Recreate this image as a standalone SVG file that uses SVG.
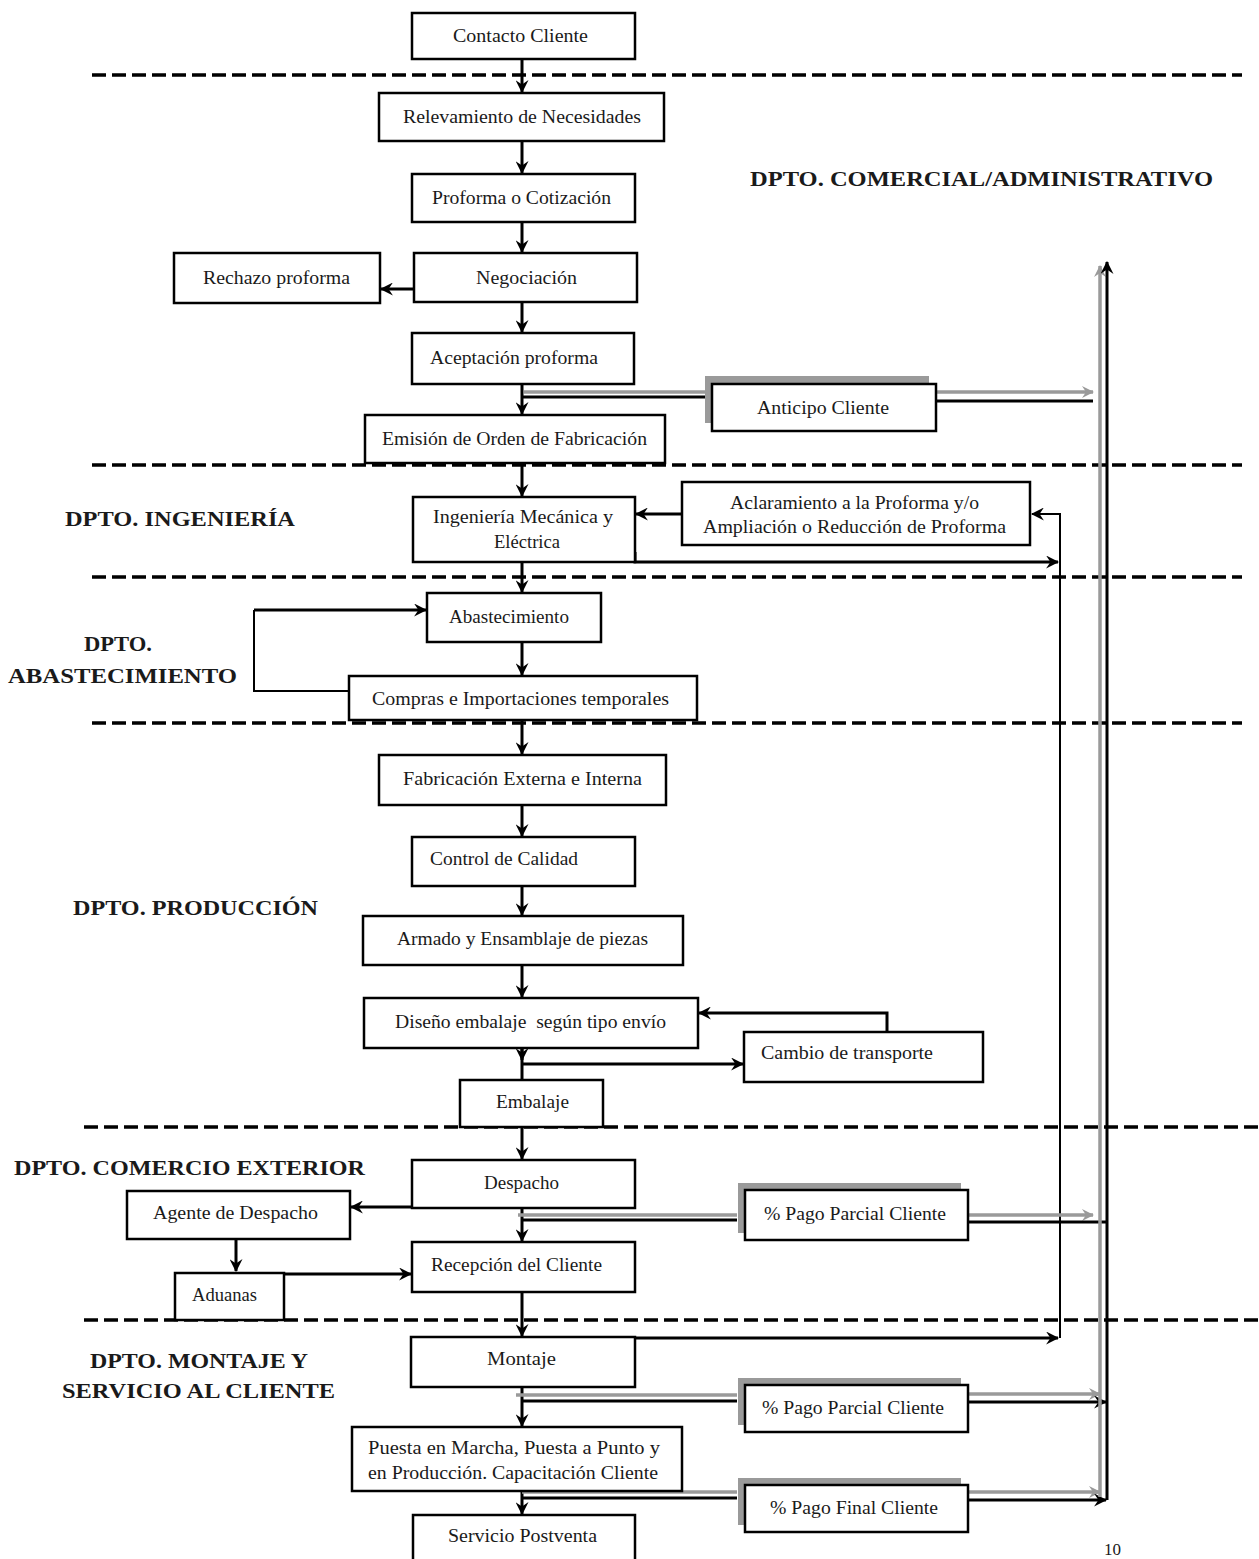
<svg xmlns="http://www.w3.org/2000/svg" width="1259" height="1559" viewBox="0 0 1259 1559">
<defs>
<marker id="ah" viewBox="0 0 12 12" refX="11" refY="6" markerWidth="13" markerHeight="13" markerUnits="userSpaceOnUse" orient="auto">
<path d="M0,0 L12,6 L0,12 L4,6 z" fill="#000"/>
</marker>
<marker id="ahg" viewBox="0 0 12 12" refX="11" refY="6" markerWidth="12" markerHeight="12" markerUnits="userSpaceOnUse" orient="auto">
<path d="M0,0 L12,6 L0,12 L4,6 z" fill="#9a9a9a"/>
</marker>
<style>
.box{fill:#fff;stroke:#000;stroke-width:2.5}
.shadow{fill:#9a9a9a;stroke:none}
.t{font-family:"Liberation Serif","Times New Roman",serif;font-size:18px;fill:#1a1a1a}
.lbl{font-family:"Liberation Serif","Times New Roman",serif;font-size:20px;font-weight:bold;fill:#1a1a1a}
.dash{stroke:#000;stroke-width:3.5;stroke-dasharray:14 6;fill:none}
.c{stroke:#000;stroke-width:3;fill:none}
.cth{stroke:#000;stroke-width:2;fill:none}
.g{stroke:#9a9a9a;stroke-width:3.5;fill:none}
.arr{marker-end:url(#ah)}
.arrg{marker-end:url(#ahg)}
</style>
</defs>
<rect width="1259" height="1559" fill="#fff"/>

<g id="dividers">
<line class="dash" x1="92" y1="75" x2="1242" y2="75"/>
<line class="dash" x1="92" y1="465" x2="1242" y2="465"/>
<line class="dash" x1="92" y1="577" x2="1242" y2="577"/>
<line class="dash" x1="92" y1="723" x2="1242" y2="723"/>
<line class="dash" x1="84" y1="1127" x2="1259" y2="1127"/>
<line class="dash" x1="84" y1="1320" x2="1259" y2="1320"/>
</g>

<g id="labels">
<text class="lbl" x="750" y="186" textLength="463" lengthAdjust="spacingAndGlyphs">DPTO. COMERCIAL/ADMINISTRATIVO</text>
<text class="lbl" x="65" y="526" textLength="230" lengthAdjust="spacingAndGlyphs">DPTO. INGENIERÍA</text>
<text class="lbl" x="84" y="651" textLength="68" lengthAdjust="spacingAndGlyphs">DPTO.</text>
<text class="lbl" x="8" y="683" textLength="229" lengthAdjust="spacingAndGlyphs">ABASTECIMIENTO</text>
<text class="lbl" x="73" y="915" textLength="245" lengthAdjust="spacingAndGlyphs">DPTO. PRODUCCIÓN</text>
<text class="lbl" x="14" y="1175" textLength="351" lengthAdjust="spacingAndGlyphs">DPTO. COMERCIO EXTERIOR</text>
<text class="lbl" x="90" y="1368" textLength="218" lengthAdjust="spacingAndGlyphs">DPTO. MONTAJE Y</text>
<text class="lbl" x="62" y="1398" textLength="273" lengthAdjust="spacingAndGlyphs">SERVICIO AL CLIENTE</text>
<text x="1104" y="1555" style="font-family:'Liberation Serif',serif;font-size:17px;fill:#1a1a1a">10</text>
</g>

<g id="connectors">
<path class="c arr" d="M522,59 V92"/>
<path class="c arr" d="M522,141 V173"/>
<path class="c arr" d="M522,222 V252"/>
<path class="c arr" d="M522,302 V332"/>
<path class="c arr" d="M522,384 V414"/>
<path class="c arr" d="M522,463 V496"/>
<path class="c arr" d="M522,562 V592"/>
<path class="c arr" d="M522,642 V675"/>
<path class="c arr" d="M522,720 V754"/>
<path class="c arr" d="M522,805 V836"/>
<path class="c arr" d="M522,886 V915"/>
<path class="c arr" d="M522,965 V997"/>
<path class="c" d="M522,1048 V1080"/>
<path class="c arr" d="M522,1046 V1060"/>
<path class="c arr" d="M522,1127 V1159"/>
<path class="c arr" d="M522,1208 V1241"/>
<path class="c arr" d="M522,1292 V1336"/>
<path class="c arr" d="M522,1387 V1426"/>
<path class="c arr" d="M522,1491 V1514"/>
<path class="c arr" d="M414,289 H381"/>
<path class="c arr" d="M682,514 H636"/>
<path class="cth arr" d="M1060,1338 V514 H1032"/>
<path class="c arr" d="M635,552 V562 H1058"/>
<path class="c arr" d="M635,1338 H1058"/>
<path class="cth" d="M349,691 H254 V610"/>
<path class="c arr" d="M254,610 H426"/>
<path class="c arr" d="M887,1032 V1013 H699"/>
<path class="c arr" d="M522,1064 H743"/>
<path class="c arr" d="M412,1207 H351"/>
<path class="c arr" d="M236,1239 V1271"/>
<path class="c arr" d="M284,1274 H411"/>
<path class="g" d="M524,392 H706"/>
<path class="c" d="M522,397 H706"/>
<path class="g arrg" d="M936,392 H1093"/>
<path class="c" d="M936,401 H1093"/>
<path class="g" d="M518,1215 H737"/>
<path class="c" d="M522,1220 H737"/>
<path class="g arrg" d="M968,1215 H1093"/>
<path class="c" d="M968,1222 H1107"/>
<path class="g" d="M516,1395 H737"/>
<path class="c" d="M522,1401 H737"/>
<path class="g arrg" d="M968,1394 H1100"/>
<path class="c arr" d="M968,1402 H1106"/>
<path class="g" d="M522,1492 H737"/>
<path class="c" d="M522,1498 H737"/>
<path class="g arrg" d="M968,1492 H1100"/>
<path class="c arr" d="M968,1500 H1106"/>
<path class="g arrg" d="M1100,1497 V266"/>
<path class="c arr" d="M1107,1500 V262"/>
</g>

<g id="n-contacto"><rect class="box" x="412" y="13" width="223" height="46"/><text class="t" x="453" y="42" textLength="135" lengthAdjust="spacingAndGlyphs">Contacto Cliente</text></g>
<g id="n-relevamiento"><rect class="box" x="379" y="93" width="285" height="48"/><text class="t" x="403" y="123" textLength="238" lengthAdjust="spacingAndGlyphs">Relevamiento de Necesidades</text></g>
<g id="n-proforma"><rect class="box" x="412" y="174" width="223" height="48"/><text class="t" x="432" y="204" textLength="179" lengthAdjust="spacingAndGlyphs">Proforma o Cotización</text></g>
<g id="n-negociacion"><rect class="box" x="414" y="253" width="223" height="49"/><text class="t" x="476" y="284" textLength="101" lengthAdjust="spacingAndGlyphs">Negociación</text></g>
<g id="n-rechazo"><rect class="box" x="174" y="253" width="206" height="50"/><text class="t" x="203" y="284" textLength="147" lengthAdjust="spacingAndGlyphs">Rechazo proforma</text></g>
<g id="n-aceptacion"><rect class="box" x="412" y="333" width="222" height="51"/><text class="t" x="430" y="364" textLength="168" lengthAdjust="spacingAndGlyphs">Aceptación proforma</text></g>
<g id="n-anticipo"><rect class="shadow" x="705" y="376" width="224" height="47"/><rect class="box" x="712" y="384" width="224" height="47"/><text class="t" x="757" y="414" textLength="132" lengthAdjust="spacingAndGlyphs">Anticipo Cliente</text></g>
<g id="n-emision"><rect class="box" x="365" y="415" width="300" height="48"/><text class="t" x="382" y="445" textLength="265" lengthAdjust="spacingAndGlyphs">Emisión de Orden de Fabricación</text></g>
<g id="n-ingenieria"><rect class="box" x="413" y="497" width="222" height="65"/><text class="t" x="433" y="523" textLength="180" lengthAdjust="spacingAndGlyphs">Ingeniería Mecánica y</text><text class="t" x="494" y="548" textLength="66" lengthAdjust="spacingAndGlyphs">Eléctrica</text></g>
<g id="n-aclaramiento"><rect class="box" x="682" y="482" width="348" height="63"/><text class="t" x="730" y="509" textLength="249" lengthAdjust="spacingAndGlyphs">Aclaramiento a la Proforma y/o</text><text class="t" x="703" y="533" textLength="303" lengthAdjust="spacingAndGlyphs">Ampliación o Reducción de Proforma</text></g>
<g id="n-abastecimiento"><rect class="box" x="427" y="593" width="174" height="49"/><text class="t" x="449" y="623" textLength="120" lengthAdjust="spacingAndGlyphs">Abastecimiento</text></g>
<g id="n-compras"><rect class="box" x="349" y="676" width="348" height="44"/><text class="t" x="372" y="705" textLength="297" lengthAdjust="spacingAndGlyphs">Compras e Importaciones temporales</text></g>
<g id="n-fabricacion"><rect class="box" x="379" y="755" width="287" height="50"/><text class="t" x="403" y="785" textLength="239" lengthAdjust="spacingAndGlyphs">Fabricación Externa e Interna</text></g>
<g id="n-control"><rect class="box" x="412" y="837" width="223" height="49"/><text class="t" x="430" y="865" textLength="148" lengthAdjust="spacingAndGlyphs">Control de Calidad</text></g>
<g id="n-armado"><rect class="box" x="363" y="916" width="320" height="49"/><text class="t" x="397" y="945" textLength="251" lengthAdjust="spacingAndGlyphs">Armado y Ensamblaje de piezas</text></g>
<g id="n-diseno"><rect class="box" x="364" y="998" width="334" height="50"/><text class="t" x="395" y="1028" textLength="271" lengthAdjust="spacingAndGlyphs" xml:space="preserve">Diseño embalaje  según tipo envío</text></g>
<g id="n-cambio"><rect class="box" x="744" y="1032" width="239" height="50"/><text class="t" x="761" y="1059" textLength="172" lengthAdjust="spacingAndGlyphs">Cambio de transporte</text></g>
<g id="n-embalaje"><rect class="box" x="460" y="1080" width="143" height="47"/><text class="t" x="496" y="1108" textLength="73" lengthAdjust="spacingAndGlyphs">Embalaje</text></g>
<g id="n-despacho"><rect class="box" x="412" y="1160" width="223" height="48"/><text class="t" x="484" y="1189" textLength="75" lengthAdjust="spacingAndGlyphs">Despacho</text></g>
<g id="n-agente"><rect class="box" x="127" y="1191" width="223" height="48"/><text class="t" x="153" y="1219" textLength="165" lengthAdjust="spacingAndGlyphs">Agente de Despacho</text></g>
<g id="n-pago1"><rect class="shadow" x="738" y="1183" width="223" height="50"/><rect class="box" x="745" y="1190" width="223" height="50"/><text class="t" x="764" y="1220" textLength="182" lengthAdjust="spacingAndGlyphs">% Pago Parcial Cliente</text></g>
<g id="n-recepcion"><rect class="box" x="412" y="1242" width="223" height="50"/><text class="t" x="431" y="1271" textLength="171" lengthAdjust="spacingAndGlyphs">Recepción del Cliente</text></g>
<g id="n-aduanas"><rect class="box" x="175" y="1273" width="109" height="47"/><text class="t" x="192" y="1301" textLength="65" lengthAdjust="spacingAndGlyphs">Aduanas</text></g>
<g id="n-montaje"><rect class="box" x="411" y="1337" width="224" height="50"/><text class="t" x="487" y="1365" textLength="69" lengthAdjust="spacingAndGlyphs">Montaje</text></g>
<g id="n-pago2"><rect class="shadow" x="738" y="1378" width="223" height="47"/><rect class="box" x="745" y="1385" width="223" height="47"/><text class="t" x="762" y="1414" textLength="182" lengthAdjust="spacingAndGlyphs">% Pago Parcial Cliente</text></g>
<g id="n-puesta"><rect class="box" x="352" y="1427" width="330" height="64"/><text class="t" x="368" y="1454" textLength="292" lengthAdjust="spacingAndGlyphs">Puesta en Marcha, Puesta a Punto y</text><text class="t" x="368" y="1479" textLength="290" lengthAdjust="spacingAndGlyphs">en Producción. Capacitación Cliente</text></g>
<g id="n-pagofinal"><rect class="shadow" x="738" y="1478" width="223" height="47"/><rect class="box" x="745" y="1485" width="223" height="47"/><text class="t" x="770" y="1514" textLength="168" lengthAdjust="spacingAndGlyphs">% Pago Final Cliente</text></g>
<g id="n-servicio"><rect class="box" x="413" y="1515" width="222" height="56"/><text class="t" x="448" y="1542" textLength="149" lengthAdjust="spacingAndGlyphs">Servicio Postventa</text></g>
</svg>
